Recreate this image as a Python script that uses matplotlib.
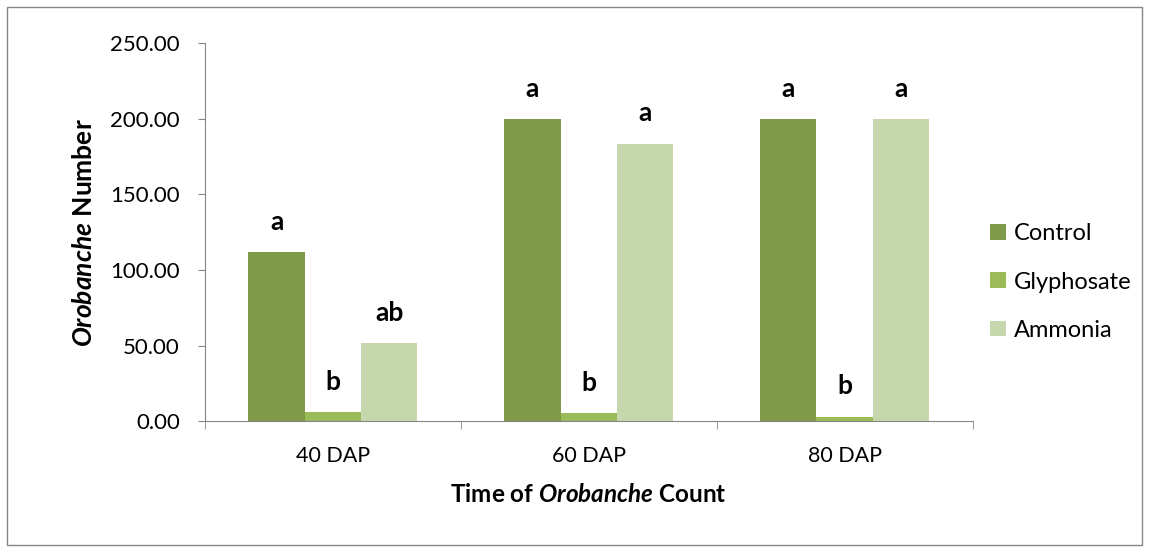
import matplotlib.pyplot as plt
import numpy as np
from matplotlib.patches import Rectangle

plt.rcParams['font.family'] = ['Lato', 'DejaVu Sans']
plt.rcParams['mathtext.fontset'] = 'custom'
plt.rcParams['mathtext.it'] = 'Lato:bold:italic'
plt.rcParams['mathtext.rm'] = 'Lato:bold'

categories = ['40 DAP', '60 DAP', '80 DAP']
series = ['Control', 'Glyphosate', 'Ammonia']
control = [112, 200, 200]
glyphosate = [6, 5.5, 3]
ammonia = [51.5, 183.5, 200]
letters = {
    'Control': ['a', 'a', 'a'],
    'Glyphosate': ['b', 'b', 'b'],
    'Ammonia': ['ab', 'a', 'a'],
}
colors = ['#7f9a48', '#9bbb59', '#c7d7ad']

fig = plt.figure(figsize=(11.49, 5.52), dpi=100)
ax = fig.add_axes([0.1784, 0.237, 0.668, 0.685])

x = np.arange(len(categories))
w = 0.22
values = [control, glyphosate, ammonia]
for i, (name, vals) in enumerate(zip(series, values)):
    pos = x + (i - 1) * w
    ax.bar(pos, vals, width=w, color=colors[i], label=name)
    for p, v, t in zip(pos, vals, letters[name]):
        ax.text(p, v + 12, t, ha='center', va='bottom',
                fontsize=19, fontweight='bold')

ax.set_xlim(-0.5, 2.5)
ax.set_ylim(0, 250)
ax.set_yticks(np.arange(0, 251, 50))
ax.set_yticklabels([f'{v:.2f}' for v in np.arange(0, 251, 50)])
ax.set_xticks(x)
ax.set_xticklabels(categories)
ax.set_xticks([-0.5, 0.5, 1.5, 2.5], minor=True)
ax.tick_params(axis='x', which='major', length=0, pad=18, labelsize=15.5)
ax.tick_params(axis='x', which='minor', length=6, color='#868686')
ax.tick_params(axis='y', length=5, color='#868686', labelsize=16, pad=13)
for s in ['top', 'right']:
    ax.spines[s].set_visible(False)
for s in ['left', 'bottom']:
    ax.spines[s].set_color('#868686')

ax.set_ylabel(r'$\mathit{Orobanche}$ Number', fontsize=19,
              fontweight='bold', labelpad=10)
ax.set_xlabel(r'Time of $\mathit{Orobanche}$ Count', fontsize=17.5,
              fontweight='bold', labelpad=12)

ax.legend(loc='center left', bbox_to_anchor=(1.023, 0.368), frameon=False,
          fontsize=17, handlelength=0.65, handleheight=0.65,
          handletextpad=0.35, labelspacing=1.15, borderpad=0, borderaxespad=0)

fig.patches.append(Rectangle((0.006, 0.012), 0.988, 0.975, transform=fig.transFigure,
                             fill=False, edgecolor='#868686', linewidth=1))

fig.savefig('out.png', dpi=100)
